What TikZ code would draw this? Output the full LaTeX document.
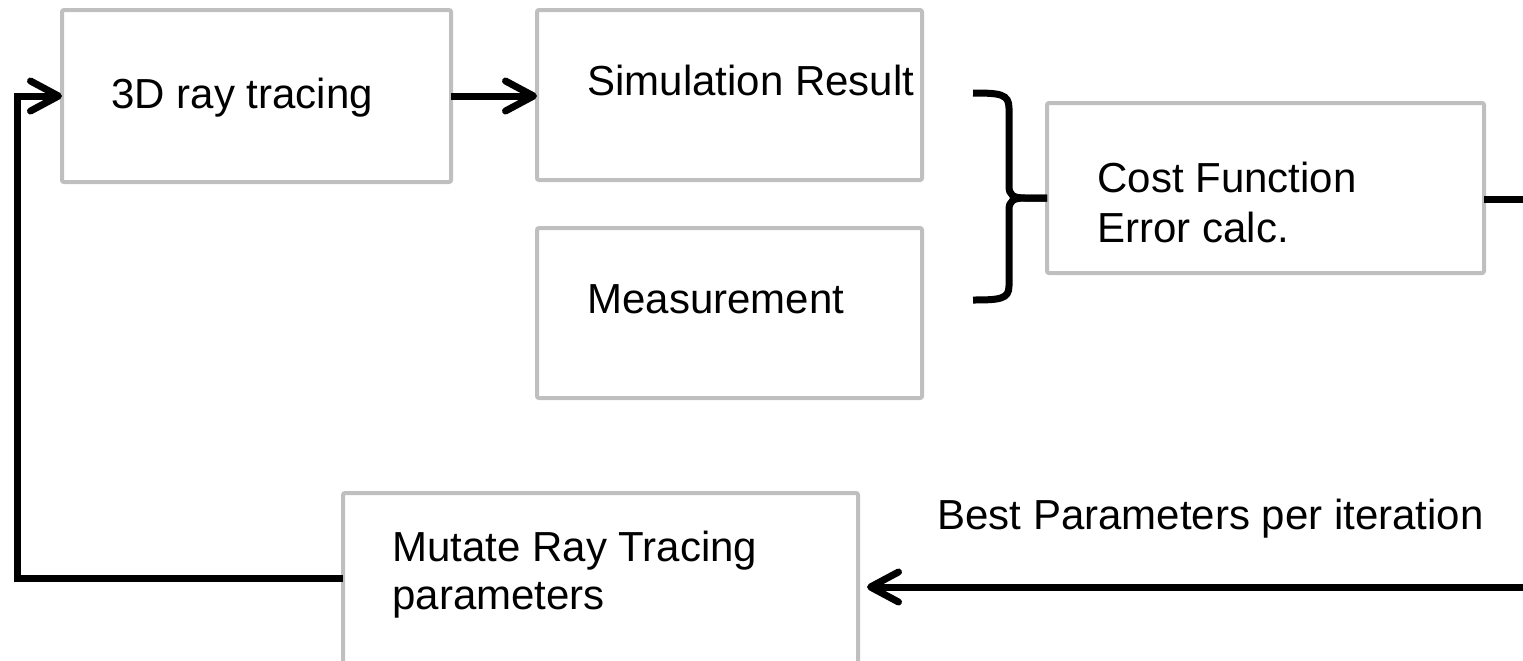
\documentclass[tikz,border=0pt]{standalone}
\usepackage{fontspec}
\setmainfont{Liberation Sans}
\usetikzlibrary{arrows.meta,calc}
\definecolor{boxgray}{HTML}{BFBFBF}
\begin{document}
\begin{tikzpicture}[x=0.5pt,y=-0.5pt,
  box/.style={draw=boxgray,line width=2pt,rounded corners=1pt,inner sep=0pt,outer sep=0pt},
  txt/.style={anchor=base west,inner sep=0pt,font=\fontsize{21pt}{25pt}\selectfont},
  conn/.style={line width=3.5pt},
  arr/.style={conn,-{Straight Barb[length=14pt,width=15pt,round]}}]
\useasboundingbox (0,0) rectangle (1523,660);
\clip (0,0) rectangle (1523,660);

% process boxes
\node[box,minimum width=194.5pt,minimum height=86pt] (raytrace) at (256.5,96) {};
\node[box,minimum width=192.5pt,minimum height=85pt] (simres) at (729.5,95) {};
\node[box,minimum width=192.5pt,minimum height=85pt] (meas) at (729.5,313) {};
\node[box,minimum width=218.5pt,minimum height=85pt] (cost) at (1265.5,188) {};
\node[box,minimum width=257.5pt,minimum height=85pt] (mutate) at (600.5,578) {};

% box texts
\node[txt] (traytrace) at (111,108) {3D ray tracing};
\node[txt] (tsimres) at (587,95) {Simulation Result};
\node[txt] (tmeas) at (587,313) {Measurement};
\node[txt] (tcosta) at (1097,192) {Cost Function};
\node[txt] (tcostb) at (1097,242) {Error calc.};
\node[txt] (tmutatea) at (392,561) {Mutate Ray Tracing};
\node[txt] (tmutateb) at (392,609) {parameters};
\node[txt] (tbest) at (937,529) {Best Parameters per iteration};

% free ends and corners
\coordinate (loopc) at (17,578);
\coordinate (costout) at (1523,199);
\coordinate (backin) at (1523,587);
\coordinate (bracetip) at (1047,198);

% connectors
\draw[arr] (raytrace.east) -- (raytrace.east -| simres.west);
\draw[arr] (mutate.west) -- (loopc) |- (raytrace.west);
\draw[conn] (cost.east |- costout) -- (costout);
\draw[arr] (backin) -- ($(mutate.east |- backin)+(9,0)$);

% curly brace joining simulation and measurement into the cost function
\draw[conn] (973,93) .. controls (1000,93) and (1009,94) .. (1009,108)
  -- (1009,186) .. controls (1009,195) and (1013,198) .. (1025,198) -- (bracetip);
\draw[conn] (bracetip) -- (1025,198) .. controls (1013,198) and (1009,201) .. (1009,210)
  -- (1009,286) .. controls (1009,299) and (1000,300) .. (973,300);
\end{tikzpicture}
\end{document}
